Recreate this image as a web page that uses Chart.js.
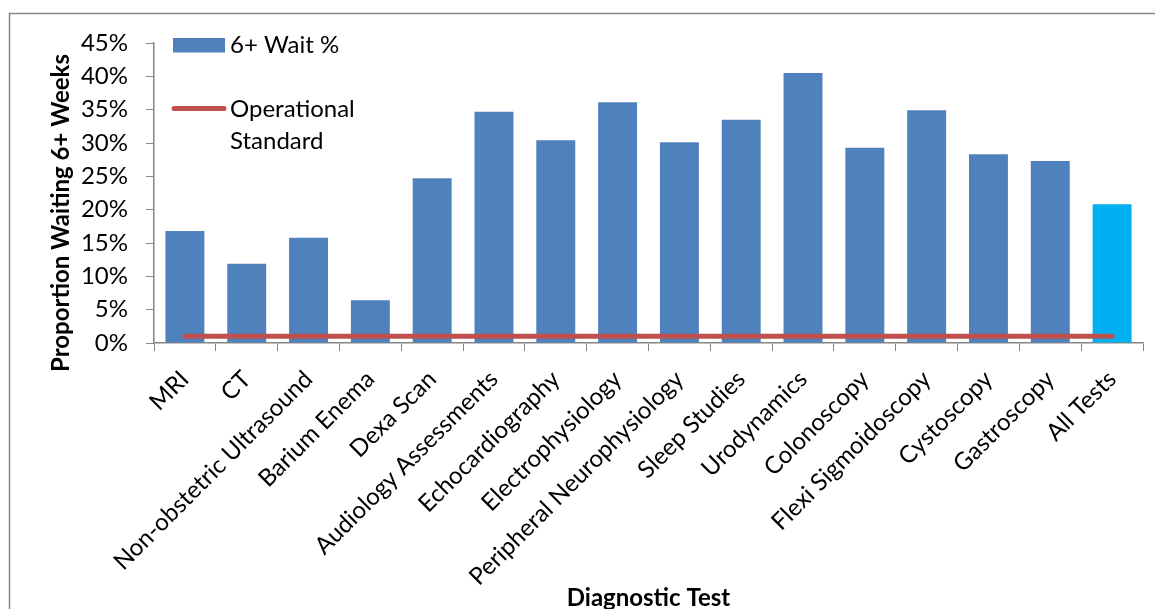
<!DOCTYPE html>
<html>
<head>
<meta charset="utf-8">
<script src="https://cdn.jsdelivr.net/npm/chart.js@4.4.1/dist/chart.umd.min.js"></script>
<style>
html,body{margin:0;padding:0;background:#fff;overflow:hidden}
#wrap{position:relative;width:1155px;height:609px}
</style>
</head>
<body>
<div id="wrap"><canvas id="c" width="1155" height="609"></canvas></div>
<script>
// ---- data ----
const categories = [
  'MRI', 'CT', 'Non-obstetric Ultrasound', 'Barium Enema', 'Dexa Scan',
  'Audiology Assessments', 'Echocardiography', 'Electrophysiology',
  'Peripheral Neurophysiology', 'Sleep Studies', 'Urodynamics', 'Colonoscopy',
  'Flexi Sigmoidoscopy', 'Cystoscopy', 'Gastroscopy', 'All Tests'
];
const waitPercent = [16.8, 11.9, 15.8, 6.4, 24.7, 34.7, 30.4, 36.1, 30.1, 33.5, 40.5, 29.3, 34.9, 28.3, 27.3, 20.8];
const operationalStandard = [1, 1, 1, 1, 1, 1, 1, 1, 1, 1, 1, 1, 1, 1, 1, 1];
const yTickLabels = ['0%', '5%', '10%', '15%', '20%', '25%', '30%', '35%', '40%', '45%'];
const seriesNames = ['6+ Wait %', ['Operational', 'Standard']];
const yAxisTitle = 'Proportion Waiting 6+ Weeks';
const xAxisTitle = 'Diagnostic Test';

// ---- styles ----
const FONT = 'Lato';
const BLUE = '#4F81BD';
const CYAN = '#00B0F0';
const RED = '#C0504D';
const AXIS = '#868686';

const decor = {
  id: 'decor',
  beforeDraw(chart) {
    const ctx = chart.ctx;
    ctx.save();
    ctx.strokeStyle = AXIS;
    ctx.lineWidth = 1.5;
    ctx.beginPath();
    ctx.moveTo(9.5, 700);
    ctx.lineTo(9.5, 13.5);
    ctx.lineTo(1200, 13.5);
    ctx.stroke();
    ctx.restore();
  },
  afterDraw(chart) {
    const ctx = chart.ctx;
    const ds = chart.data.datasets;
    ctx.save();
    // legend: bar entry
    ctx.fillStyle = BLUE;
    ctx.fillRect(173, 38, 52, 14.5);
    ctx.fillStyle = '#000';
    ctx.font = '24px ' + FONT;
    ctx.textBaseline = 'middle';
    ctx.textAlign = 'left';
    ctx.fillText(ds[0].label, 230, 45);
    // legend: line entry
    ctx.strokeStyle = RED;
    ctx.lineWidth = 5;
    ctx.lineCap = 'round';
    ctx.beginPath();
    ctx.moveTo(174, 108.5);
    ctx.lineTo(224, 108.5);
    ctx.stroke();
    const lines = ds[1].label;
    ctx.fillText(lines[0], 230, 109);
    ctx.fillText(lines[1], 230, 141);
    // axis titles
    ctx.font = 'bold 24px ' + FONT;
    ctx.textAlign = 'center';
    const ca = chart.chartArea;
    ctx.fillText(xAxisTitle, (ca.left + ca.right) / 2, 598);
    ctx.translate(61, 213);
    ctx.rotate(-Math.PI / 2);
    ctx.fillText(yAxisTitle, 0, 0);
    ctx.restore();
  }
};

new Chart(document.getElementById('c'), {
  type: 'bar',
  data: {
    labels: categories,
    datasets: [
      {
        type: 'bar',
        label: seriesNames[0],
        data: waitPercent,
        backgroundColor: categories.map(c => c === 'All Tests' ? CYAN : BLUE),
        borderWidth: 0,
        barPercentage: 0.63,
        categoryPercentage: 1,
        order: 2
      },
      {
        type: 'line',
        label: seriesNames[1],
        data: operationalStandard,
        borderColor: RED,
        backgroundColor: RED,
        borderWidth: 5,
        borderCapStyle: 'round',
        pointRadius: 0,
        pointHoverRadius: 0,
        fill: false,
        order: 1
      }
    ]
  },
  options: {
    responsive: false,
    animation: false,
    devicePixelRatio: 1,
    layout: { padding: { top: 43, right: 12, left: 0, bottom: 0 } },
    plugins: { legend: { display: false }, tooltip: { enabled: false } },
    scales: {
      x: {
        grid: { drawOnChartArea: false, drawTicks: true, tickLength: 8, color: AXIS, offset: true },
        border: { color: AXIS, width: 1.5 },
        ticks: { autoSkip: false, maxRotation: 45, minRotation: 45, color: '#000', font: { family: FONT, size: 24 }, padding: 14 },
        afterFit(s) { s.height = 266; }
      },
      y: {
        min: 0,
        max: 45,
        grid: { drawOnChartArea: false, drawTicks: true, tickLength: 8, color: AXIS },
        border: { color: AXIS, width: 1.5 },
        ticks: {
          stepSize: 5,
          color: '#000',
          font: { family: FONT, size: 24 },
          padding: 18,
          callback: (v) => yTickLabels[Math.round(v / 5)]
        },
        afterFit(s) { s.width = 154; }
      }
    }
  },
  plugins: [decor]
});
</script>
</body>
</html>
